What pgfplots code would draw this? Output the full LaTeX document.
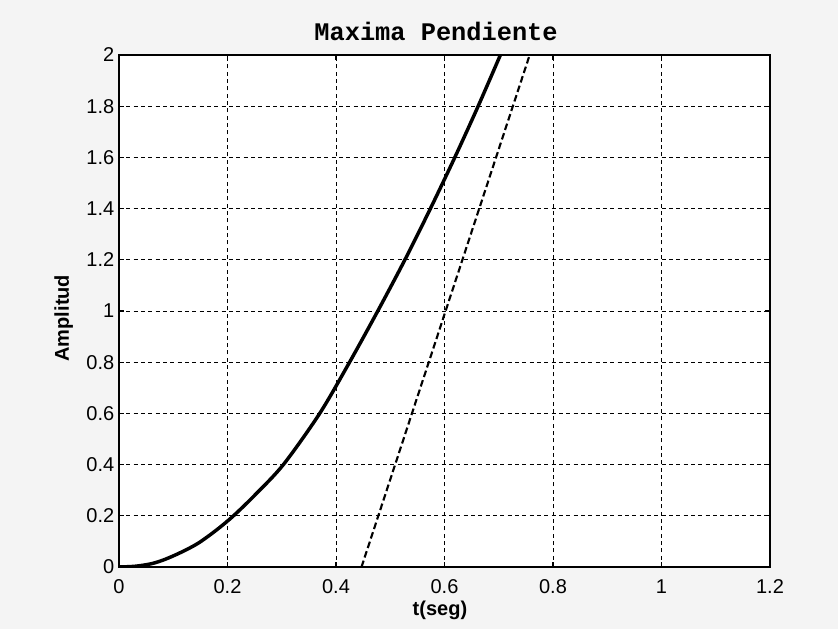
\documentclass[border=0pt]{standalone}
\usepackage{fontspec}
\setmainfont{Liberation Sans}
\newfontfamily\monob{Liberation Mono}
\usepackage{pgfplots}
\pgfplotsset{compat=1.18}
\begin{document}
\begin{tikzpicture}[x=1pt,y=1pt]
  % page background (scanned paper look)
  \fill[gray!9] (-89.25,-46.5) rectangle (539.25,425.25);
  \begin{axis}[
    at={(0,0)}, anchor=origin,
    scale only axis,
    width=488.25pt, height=384pt,
    xmin=0, xmax=1.2, ymin=0, ymax=2,
    xtick={0,0.2,0.4,0.6,0.8,1,1.2},
    ytick={0,0.2,0.4,0.6,0.8,1,1.2,1.4,1.6,1.8,2},
    grid=major,
    major grid style={black, line width=0.75pt, dash pattern=on 3pt off 2.5pt},
    axis background/.style={fill=white},
    axis line style={black, line width=1.2pt},
    tick style={black, line width=0.8pt},
    tick align=inside, major tick length=4pt,
    ticklabel style={font=\fontsize{15}{17}\selectfont},
    xticklabel style={yshift=-6pt},
    /pgf/number format/assume math mode=true,
    title={\monob\bfseries\fontsize{19}{21}\selectfont Maxima Pendiente},
    title style={at={(axis description cs:0.487,1.03)}, anchor=center},
    xlabel={\bfseries t(seg)},
    xlabel style={font=\fontsize{15}{17}\selectfont, at={(axis description cs:0.493,-0.084)}, anchor=center},
    ylabel={\bfseries Amplitud},
    ylabel style={font=\fontsize{15}{17}\selectfont, at={(axis description cs:-0.085,0.486)}, anchor=center, rotate=0},
  ]
  % respuesta (linea continua)
  \addplot[black, line width=2.6pt, smooth, tension=0.5] coordinates {
    (0,0) (0.03,0.003) (0.06,0.013) (0.085,0.03) (0.115,0.058) (0.146,0.093)
    (0.18,0.145) (0.211,0.2) (0.25,0.28) (0.303,0.4) (0.37,0.6)
    (0.425,0.8) (0.477,1.0) (0.527,1.2) (0.574,1.4) (0.619,1.6)
    (0.662,1.8) (0.703,2.0)
  };
  % recta de maxima pendiente (discontinua)
  \addplot[black, line width=1.6pt, dash pattern=on 5pt off 2.5pt] coordinates {
    (0.447,0) (0.757,2)
  };
  \end{axis}
  \pgfresetboundingbox
  \path (-89.25,-46.5) rectangle (539.25,425.25);
\end{tikzpicture}
\end{document}
